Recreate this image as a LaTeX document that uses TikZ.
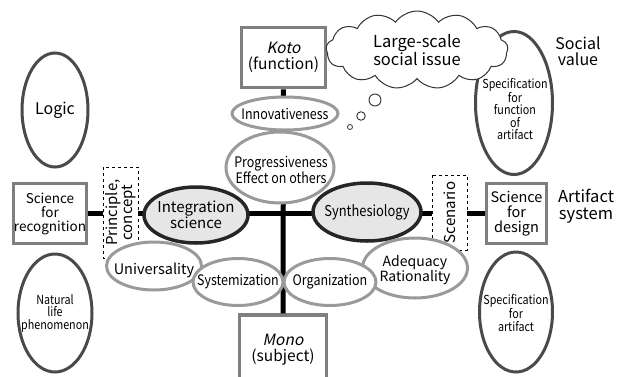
\documentclass[tikz,border=0pt]{standalone}
\usepackage{fontspec}
\setmainfont{Noto Sans CJK JP}
\newfontfamily\condfont[FakeStretch=0.86]{Noto Sans CJK JP}
\newfontfamily\slfont[FakeSlant=0.2]{Noto Sans CJK JP}
\usetikzlibrary{shapes.geometric,shapes.symbols}
\definecolor{boxgray}{HTML}{7F7F7F}
\definecolor{darkrim}{HTML}{4A4A4A}
\definecolor{lightrim}{HTML}{9A9A9A}
\definecolor{hubfill}{HTML}{E6E6E6}
\tikzset{
  conn/.style={line width=5pt, black},
  graybox/.style={draw=boxgray, line width=3.5pt, fill=white, rectangle, inner sep=0pt, align=center, font=\fontsize{15.5}{16}\selectfont},
  dashbox/.style={draw=black, dashed, line width=0.8pt, fill=white, rectangle, inner sep=0pt, align=center, rotate=90, font=\fontsize{15}{13.5}\selectfont},
  darkell/.style={draw=darkrim, line width=3pt, fill=white, ellipse, inner sep=0pt},
  lightell/.style={draw=lightrim, line width=3pt, fill=white, ellipse, inner sep=0pt},
  hubell/.style={draw=black!85, line width=3.5pt, fill=hubfill, ellipse, inner sep=0pt},
  txt/.style={align=center, inner sep=0pt},
  condtext/.style={txt, font=\condfont\fontsize{14.5}{15}\selectfont},
  smallcond/.style={txt, font=\condfont\fontsize{12.5}{12.5}\selectfont},
  plain/.style={txt, font=\fontsize{16}{16.5}\selectfont}
}
\begin{document}
\begin{tikzpicture}[x=1pt,y=-1pt]
\useasboundingbox (0,0) rectangle (627,376);
\clip (0,0) rectangle (627,376);

% boxes
\node[graybox, minimum width=84pt, minimum height=60pt] (koto) at (283.5,57.5) {{\slfont Koto}\\(function)};
\node[graybox, minimum width=87pt, minimum height=70pt] (mono) at (283,350) {{\slfont Mono}\\(subject)};
\node[graybox, minimum width=73pt, minimum height=60pt, font=\fontsize{13.5}{14}\selectfont] (sfr) at (50,213.5) {Science\\for\\recognition};
\node[graybox, minimum width=60pt, minimum height=60pt, font=\fontsize{14.5}{15}\selectfont] (sfd) at (516.5,213.5) {Science\\for\\design};

% connectors
\draw[conn] (sfr) -- (sfd);
\draw[conn] (koto) -- (mono);

% dashed boxes
\node[dashbox, minimum width=91pt, minimum height=35pt] (princ) at (120.5,212.5) {Principle,\\concept};
\node[dashbox, minimum width=75pt, minimum height=35pt] (scen) at (449.5,212.5) {Scenario};

% side ellipses
\node[darkell, minimum width=66pt, minimum height=114pt] (logic) at (55,110) {};
\node[txt, font=\fontsize{16}{16}\selectfont] (logic-t) at (logic) {Logic};
\node[darkell, minimum width=74pt, minimum height=118pt] (natural) at (55,313) {};
\node[smallcond] (natural-t) at (natural) {Natural\\life\\phenomenon};
\node[darkell, minimum width=77pt, minimum height=143pt] (specfun) at (514,103) {};
\node[smallcond] (specfun-t) at (515,109) {Specification\\for\\function\\of\\artifact};
\node[darkell, minimum width=73pt, minimum height=120pt] (specart) at (516,312) {};
\node[smallcond] (specart-t) at (516,313) {Specification\\for\\artifact};

% upper light ellipses
\node[lightell, minimum width=106pt, minimum height=33pt] (innov) at (285,113.5) {};
\node[condtext] (innov-t) at (innov) {Innovativeness};
\node[lightell, minimum width=108pt, minimum height=71pt] (progress) at (280,167.5) {};
\node[condtext] (progress-t) at (281,170) {Progressiveness\\Effect on others};

% hub ellipses
\node[hubell, minimum width=104pt, minimum height=56pt] (integ) at (196,215) {};
\node[txt, font=\fontsize{15}{16}\selectfont] (integ-t) at (integ) {Integration\\science};
\node[hubell, minimum width=108pt, minimum height=58pt] (synth) at (367,212) {};
\node[txt, font=\condfont\fontsize{15}{16}\selectfont] (synth-t) at (synth) {Synthesiology};

% lower light ellipses
\node[lightell, minimum width=105pt, minimum height=60pt] (adeq) at (415,268) {};
\node[txt, font=\fontsize{14}{15}\selectfont] (adeq-t) at (415,270) {Adequacy\\Rationality};
\node[lightell, minimum width=92pt, minimum height=47pt] (organ) at (330,282) {};
\node[condtext] (organ-t) at (organ) {Organization};
\node[lightell, minimum width=95pt, minimum height=48pt] (univ) at (154,266) {};
\node[txt, font=\fontsize{14.5}{14}\selectfont] (univ-t) at (154,270) {Universality};
\node[lightell, minimum width=90pt, minimum height=47pt] (system) at (238,282) {};
\node[condtext] (system-t) at (system) {Systemization};

% cloud and thought bubbles
\node[cloud, cloud puffs=13, cloud puff arc=110, cloud ignores aspect, draw=black!80, line width=1pt, fill=white, minimum width=182pt, minimum height=78pt, align=center, font=\fontsize{16.5}{16.5}\selectfont] (issue) at (417,50) {Large-scale\\social issue};
\node[circle, draw=black!80, line width=0.9pt, fill=white, minimum size=12pt, inner sep=0pt] (b1) at (375,100) {};
\node[circle, draw=black!80, line width=0.9pt, fill=white, minimum size=8.5pt, inner sep=0pt] (b2) at (361,116) {};
\node[circle, draw=black!80, line width=0.8pt, fill=white, minimum size=5pt, inner sep=0pt] (b3) at (350,127) {};

% free labels
\node[plain] (social) at (578,51) {Social\\value};
\node[plain, font=\fontsize{16.5}{16.5}\selectfont] (artsys) at (586,206) {Artifact\\system};
\end{tikzpicture}
\end{document}
